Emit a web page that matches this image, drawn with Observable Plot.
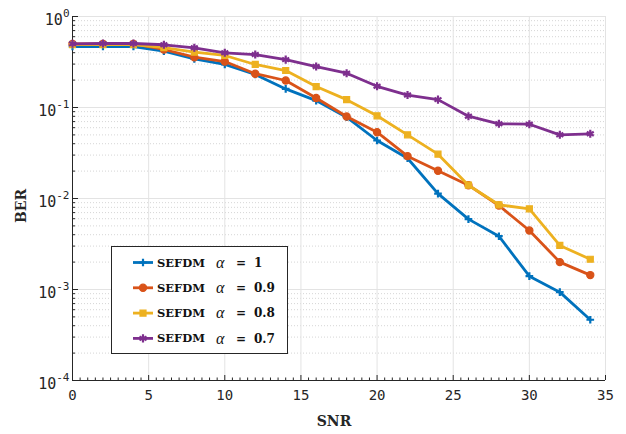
<!DOCTYPE html>
<html><head><meta charset="utf-8">
<script src="https://cdn.jsdelivr.net/npm/d3@7"></script>
<script src="https://cdn.jsdelivr.net/npm/@observablehq/plot@0.6"></script>
<style>
html,body{margin:0;padding:0;background:#fff;}
#chart{position:relative;width:626px;height:434px;}
</style></head><body><div id="chart"></div>
<script>
// ---- data ----
const snr = [0,2,4,6,8,10,12,14,16,18,20,22,24,26,28,30,32,34];
const berAlpha10 = [0.468,0.468,0.468,0.416,0.343,0.297,0.231,0.160,0.119,0.0783,0.0434,0.0277,0.0113,0.00593,0.00385,0.00140,0.000935,0.000465];
const berAlpha09 = [0.50,0.50,0.50,0.434,0.357,0.320,0.235,0.198,0.127,0.0796,0.0535,0.0292,0.0202,0.0140,0.00838,0.00445,0.00200,0.00144];
const berAlpha08 = [0.49,0.49,0.49,0.455,0.405,0.373,0.297,0.255,0.170,0.122,0.0811,0.0501,0.0307,0.0140,0.00853,0.00770,0.00305,0.00215];
const berAlpha07 = [0.501,0.505,0.505,0.489,0.453,0.399,0.382,0.336,0.282,0.238,0.171,0.137,0.122,0.0802,0.0662,0.0655,0.0501,0.0514];
const seriesNames = ["1","0.9","0.8","0.7"];
const seriesLabel = "SEFDM";
const xMajorTicks = [0,5,10,15,20,25,30,35];
const yMajorTicks = [1e-4,1e-3,1e-2,1e-1,1];
const yTickLabels = ["10^-4","10^-3","10^-2","10^-1","10^0"];
const xLabel = "SNR";
const yLabel = "BER";

// ---- styles ----
const seriesValues = [berAlpha10, berAlpha09, berAlpha08, berAlpha07];
const seriesColors = ["#0072BD","#D95319","#EDB120","#7E2F8E"];
const seriesSymbols = ["plus","circle","square","asterisk"];
const d3Symbols = [d3.symbolPlus, d3.symbolCircle, d3.symbolSquare, d3.symbolAsterisk];
const seriesR = [2.6, 3.6, 3.4, 3.8];
const axisColor = "#262626";
const serifBold = "'DejaVu Serif', 'Liberation Serif', serif";

const xMinor = d3.range(0.5, 35, 0.5).filter(v => v % 5 !== 0);
const yMinor = [];
for (let e = -4; e < 0; e++) for (let m = 2; m <= 9; m++) yMinor.push(m * 10 ** e);

const seriesMarks = seriesValues.flatMap((vals, i) => {
  const rows = snr.map((s, j) => ({snr: s, ber: vals[j]}));
  const filled = seriesSymbols[i] === "circle" || seriesSymbols[i] === "square";
  return [
    Plot.line(rows, {x: "snr", y: "ber", stroke: seriesColors[i], strokeWidth: 2.8}),
    Plot.dot(rows, {x: "snr", y: "ber", symbol: seriesSymbols[i], r: seriesR[i],
      stroke: seriesColors[i], strokeWidth: filled ? 1.2 : 2.2,
      fill: filled ? seriesColors[i] : "none"})
  ];
});

const plot = Plot.plot({
  width: 626, height: 434,
  marginLeft: 72, marginRight: 21, marginTop: 16, marginBottom: 54,
  x: {domain: [0, 35], axis: null},
  y: {type: "log", domain: [1e-4, 1], axis: null},
  marks: [
    Plot.ruleY(yMinor, {stroke: "#d6d6d6", strokeDasharray: "1,2", strokeWidth: 1}),
    Plot.ruleY(yMajorTicks, {stroke: "#e3e3e3", strokeWidth: 1}),
    Plot.ruleX(xMajorTicks, {stroke: "#e3e3e3", strokeWidth: 1}),
    Plot.ruleX([0], {stroke: axisColor, strokeWidth: 1}),
    Plot.ruleY([1e-4], {stroke: axisColor, strokeWidth: 1}),
    Plot.ruleY(yMajorTicks, {x1: 0, x2: 0, insetRight: -6, stroke: axisColor}),
    Plot.ruleY(yMinor, {x1: 0, x2: 0, insetRight: -3, stroke: axisColor}),
    Plot.ruleX(xMajorTicks, {y1: 1e-4, y2: 1e-4, insetTop: -5, stroke: axisColor}),
    Plot.ruleX(xMinor, {y1: 1e-4, y2: 1e-4, insetTop: -2.5, stroke: axisColor}),
    Plot.text(xMajorTicks, {x: d => d, frameAnchor: "bottom", dy: 19, text: d => String(d),
      fontFamily: "DejaVu Sans Mono", fontSize: 14, fill: axisColor}),
    Plot.text(yMajorTicks, {y: d => d, frameAnchor: "left", dx: -3, dy: 4, textAnchor: "end",
      text: (d, i) => yTickLabels[i], fontFamily: "DejaVu Sans Mono", fontSize: 15,
      fill: axisColor}),
    Plot.text([xLabel], {frameAnchor: "bottom", dx: -5, dy: 45, text: d => d,
      fontFamily: serifBold, fontWeight: "bold", fontSize: 14, fill: axisColor}),
    ...seriesMarks
  ]
});

document.getElementById("chart").appendChild(plot);
const svg = d3.select(plot);

// superscripts for y tick labels
svg.selectAll("text").filter(function() { return this.textContent.includes("^"); }).each(function() {
  const t = d3.select(this);
  const [base, exp] = t.text().split("^");
  t.text(null);
  t.append("tspan").text(base);
  t.append("tspan").attr("dy", -8).attr("font-size", 11).text(exp);
});

// y axis title
svg.append("text").attr("transform", "translate(21,206) rotate(-90)")
  .attr("text-anchor", "middle").attr("dy", "0.35em")
  .attr("font-family", serifBold).attr("font-weight", "bold").attr("font-size", 14)
  .attr("fill", axisColor).text(yLabel);

// legend
const lg = svg.append("g").attr("text-anchor", "start");
lg.append("rect").attr("x", 111.5).attr("y", 246.5).attr("width", 176).attr("height", 107)
  .attr("fill", "#fff").attr("stroke", axisColor).attr("stroke-width", 1);
seriesNames.forEach((name, i) => {
  const cy = 262.5 + i * 25.3;
  const filled = i === 1 || i === 2;
  lg.append("line").attr("x1", 133).attr("x2", 153).attr("y1", cy).attr("y2", cy)
    .attr("stroke", seriesColors[i]).attr("stroke-width", 2.8);
  lg.append("path").attr("transform", `translate(143,${cy})`)
    .attr("d", d3.symbol(d3Symbols[i], seriesR[i] * seriesR[i] * Math.PI)())
    .attr("fill", filled ? seriesColors[i] : "none")
    .attr("stroke", seriesColors[i]).attr("stroke-width", filled ? 1.2 : 2.2);
  lg.append("text").attr("x", 157).attr("y", cy).attr("dy", "0.35em")
    .attr("font-family", serifBold).attr("font-weight", "bold").attr("font-size", 11.5)
    .attr("fill", "#111").text(seriesLabel);
  lg.append("text").attr("x", 216).attr("y", cy).attr("dy", "0.32em")
    .attr("font-family", "'Liberation Serif', 'DejaVu Serif', serif").attr("font-style", "italic").attr("font-size", 16)
    .attr("fill", "#111").text("α");
  lg.append("text").attr("x", 236).attr("y", cy).attr("dy", "0.35em")
    .attr("font-family", serifBold).attr("font-weight", "bold").attr("font-size", 12)
    .attr("fill", "#111").text("=");
  lg.append("text").attr("x", 254).attr("y", cy).attr("dy", "0.35em")
    .attr("font-family", serifBold).attr("font-weight", "bold").attr("font-size", 12)
    .attr("fill", "#111").text(name);
});
</script></body></html>
